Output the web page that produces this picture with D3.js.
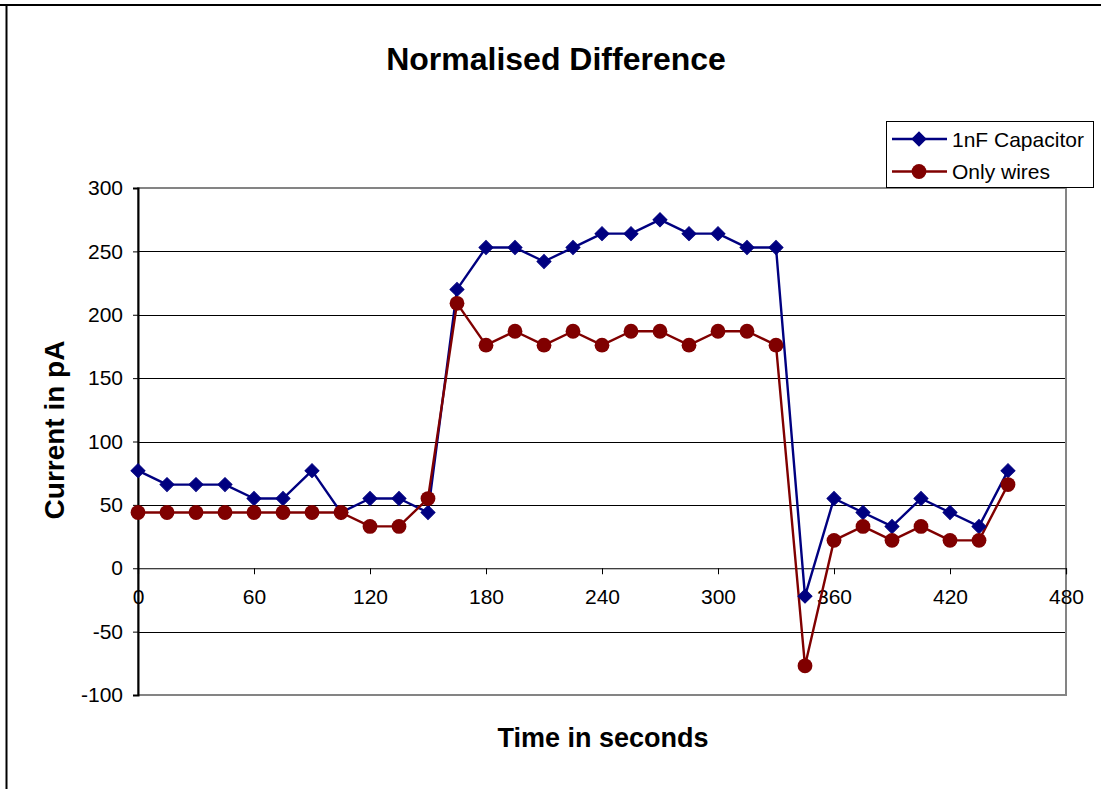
<!DOCTYPE html>
<html>
<head>
<meta charset="utf-8">
<script src="https://cdn.jsdelivr.net/npm/d3@7"></script>
<style>
  html, body { margin: 0; padding: 0; background: #fff; }
  svg { display: block; font-family: "Liberation Sans", Arial, sans-serif; }
</style>
</head>
<body>
<svg id="chart" width="1101" height="789"></svg>
<script>
// Sample times (s) and normalised current difference (pA)
const times = [0, 15, 30, 45, 60, 75, 90, 105, 120, 135, 150, 165, 180, 195, 210, 225,
               240, 255, 270, 285, 300, 315, 330, 345, 360, 375, 390, 405, 420, 435, 450];
const capacitor = [77, 66, 66, 66, 55, 55, 77, 44, 55, 55, 44, 220, 253, 253, 242, 253,
                   264, 264, 275, 264, 264, 253, 253, -22, 55, 44, 33, 55, 44, 33, 77];
const wires = [44, 44, 44, 44, 44, 44, 44, 44, 33, 33, 55, 209, 176, 187, 176, 187,
               176, 187, 187, 176, 187, 187, 176, -77, 22, 33, 22, 33, 22, 22, 66];
const seriesNames = ["1nF Capacitor", "Only wires"];
const xTicks = [0, 60, 120, 180, 240, 300, 360, 420, 480];
const yTicks = [-100, -50, 0, 50, 100, 150, 200, 250, 300];

const svg = d3.select("#chart");
const W = 1101, H = 789;
const plot = { left: 138, right: 1066, top: 188, bottom: 695 };

const x = d3.scaleLinear().domain([0, 480]).range([plot.left, plot.right]);
const y = d3.scaleLinear().domain([-100, 300]).range([plot.bottom, plot.top]);

// outer frame (top and left edges)
svg.append("line").attr("x1", 0).attr("x2", W).attr("y1", 5).attr("y2", 5)
  .attr("stroke", "#000").attr("stroke-width", 2);
svg.append("line").attr("x1", 6.5).attr("x2", 6.5).attr("y1", 4).attr("y2", H)
  .attr("stroke", "#000").attr("stroke-width", 2);

// title
svg.append("text").attr("x", 556).attr("y", 70).attr("text-anchor", "middle")
  .attr("font-size", 32).attr("font-weight", "bold").text("Normalised Difference");

// horizontal gridlines
svg.append("g").selectAll("line").data(yTicks.filter(v => v !== 300 && v !== -100 && v !== 0))
  .join("line")
  .attr("x1", plot.left).attr("x2", plot.right)
  .attr("y1", d => Math.round(y(d)) + 0.5).attr("y2", d => Math.round(y(d)) + 0.5)
  .attr("stroke", "#000").attr("stroke-width", 1);

// plot area border
svg.append("rect")
  .attr("x", plot.left).attr("y", plot.top)
  .attr("width", plot.right - plot.left).attr("height", plot.bottom - plot.top)
  .attr("fill", "none").attr("stroke", "#848484").attr("stroke-width", 2);

const tickFmt = d => String(d);

// y axis
const yAxis = d3.axisLeft(y).tickValues(yTicks).tickSize(5).tickPadding(10).tickFormat(tickFmt);
const gy = svg.append("g").attr("transform", `translate(${plot.left},0)`).call(yAxis);
gy.select(".domain").attr("stroke", "#000").attr("stroke-width", 2);
gy.selectAll(".tick line").attr("stroke", "#000");
gy.selectAll(".tick text").attr("font-size", 21).attr("font-family", "Liberation Sans, Arial, sans-serif")
  .attr("fill", "#000");

// x axis along zero
const xAxis = d3.axisBottom(x).tickValues(xTicks).tickSize(6).tickPadding(15).tickFormat(tickFmt);
const gx = svg.append("g").attr("transform", `translate(0,${y(0)})`).call(xAxis);
gx.select(".domain").attr("stroke", "#000").attr("stroke-width", 1.2);
gx.selectAll(".tick line").attr("stroke", "#000");
gx.selectAll(".tick text").attr("font-size", 21).attr("font-family", "Liberation Sans, Arial, sans-serif")
  .attr("fill", "#000");

// axis titles
svg.append("text").attr("x", 603).attr("y", 747).attr("text-anchor", "middle")
  .attr("font-size", 27).attr("font-weight", "bold").text("Time in seconds");
svg.append("text").attr("transform", "translate(64,430) rotate(-90)").attr("text-anchor", "middle")
  .attr("font-size", 28).attr("font-weight", "bold").text("Current in pA");

const colors = ["#000080", "#800000"];
const line = d3.line().x((d, i) => x(times[i])).y(d => y(d));
const diamond = d3.symbol().type(d3.symbolSquare).size(98);

// series lines
[capacitor, wires].forEach((vals, k) => {
  svg.append("path").datum(vals).attr("d", line)
    .attr("fill", "none").attr("stroke", colors[k]).attr("stroke-width", 2.4)
    .attr("stroke-linejoin", "round");
});

// markers
svg.append("g").selectAll("path").data(capacitor).join("path")
  .attr("d", diamond)
  .attr("transform", (d, i) => `translate(${x(times[i])},${y(d)}) rotate(45)`)
  .attr("fill", colors[0]).attr("stroke", colors[0]).attr("stroke-width", 1);
svg.append("g").selectAll("circle").data(wires).join("circle")
  .attr("cx", (d, i) => x(times[i])).attr("cy", d => y(d)).attr("r", 7.4)
  .attr("fill", colors[1]);

// legend
const lg = svg.append("g");
lg.append("rect").attr("x", 886.5).attr("y", 121.5).attr("width", 207).attr("height", 66)
  .attr("fill", "#fff").attr("stroke", "#000").attr("stroke-width", 1);
seriesNames.forEach((name, k) => {
  const cy = k === 0 ? 139 : 171.5;
  lg.append("line").attr("x1", 892).attr("x2", 947).attr("y1", cy).attr("y2", cy)
    .attr("stroke", colors[k]).attr("stroke-width", 2.4);
  if (k === 0) {
    lg.append("path").attr("d", diamond)
      .attr("transform", `translate(919,${cy}) rotate(45)`).attr("fill", colors[0])
      .attr("stroke", colors[0]).attr("stroke-width", 1);
  } else {
    lg.append("circle").attr("cx", 919).attr("cy", cy).attr("r", 7.4).attr("fill", colors[1]);
  }
  lg.append("text").attr("x", 952).attr("y", cy + 7.5).attr("font-size", 21).text(name);
});
</script>
</body>
</html>
